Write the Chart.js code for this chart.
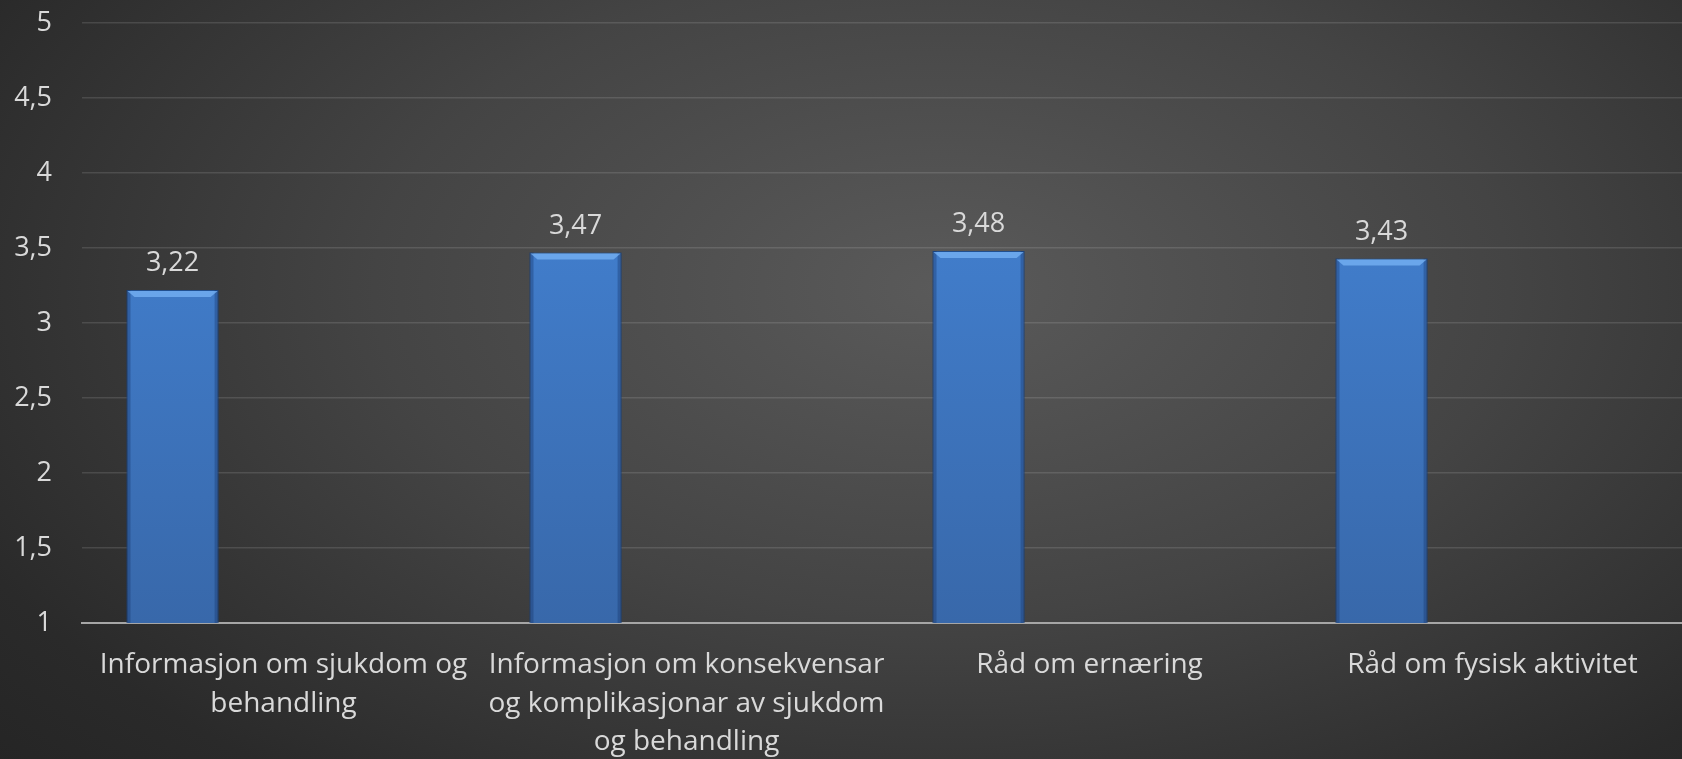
<!DOCTYPE html>
<html>
<head>
<meta charset="utf-8">
<script src="https://cdn.jsdelivr.net/npm/chart.js@4.4.0/dist/chart.umd.min.js"></script>
<style>
    html, body {
        margin: 0;
        padding: 0;
        width: 1682px;
        height: 759px;
        overflow: hidden;
    }
    body {
        background: radial-gradient(ellipse 75% 95% at 56% 38%, #5a5a5a 0%, #444444 45%, #2a2a2a 85%, #252525 100%);
    }
    canvas { display: block; }
</style>
</head>
<body>
<canvas id="myChart" width="1694" height="759"></canvas>
<script>
// Chart data
const categories = [
    ['Informasjon om sjukdom og', 'behandling'],
    ['Informasjon om konsekvensar', 'og komplikasjonar av sjukdom', 'og behandling'],
    'Råd om ernæring',
    'Råd om fysisk aktivitet'
];
const values = [3.22, 3.47, 3.48, 3.43];
// the other two series in the workbook are empty, they only take up room in each group
const emptySeries = [null, null, null, null];
const yTicks = [1, 1.5, 2, 2.5, 3, 3.5, 4, 4.5, 5];

const textColor = '#d9d9d9';
const fontFamily = '"Open Sans", "Noto Sans", sans-serif';

const toComma = (v) => String(v).replace('.', ',');

// value labels over the bars + the light bevel on top of each bar
const barExtras = {
    id: 'barExtras',
    afterDatasetsDraw(chart) {
        const ctx = chart.ctx;
        const bottom = chart.chartArea.bottom;
        const meta = chart.getDatasetMeta(0);
        meta.data.forEach((bar, i) => {
            const left = bar.x - bar.width / 2;
            const right = bar.x + bar.width / 2;
            const h = Math.min(bar.base, bottom) - bar.y;
            ctx.save();
            // darker sides
            ctx.fillStyle = 'rgba(20, 50, 100, 0.35)';
            ctx.fillRect(left, bar.y, 4, h);
            ctx.fillRect(right - 4, bar.y, 4, h);
            // bevel
            ctx.fillStyle = 'rgba(120, 180, 245, 0.75)';
            ctx.beginPath();
            ctx.moveTo(left + 1, bar.y + 1);
            ctx.lineTo(right - 1, bar.y + 1);
            ctx.lineTo(right - 8, bar.y + 7);
            ctx.lineTo(left + 8, bar.y + 7);
            ctx.closePath();
            ctx.fill();
            ctx.restore();

            ctx.save();
            ctx.fillStyle = textColor;
            ctx.font = '27px ' + fontFamily;
            ctx.textAlign = 'center';
            ctx.textBaseline = 'alphabetic';
            ctx.fillText(toComma(values[i]), bar.x, bar.y - 19);
            ctx.restore();
        });
    }
};

window.onload = function () {
    const ctx = document.getElementById('myChart').getContext('2d');

    const myChart = new Chart(ctx, {
        type: 'bar',
        data: {
            labels: categories,
            datasets: [{
                label: 'Snitt',
                data: values,
                backgroundColor: (c) => {
                    const area = c.chart.chartArea;
                    if (!area) return '#3d7bd0';
                    const g = c.chart.ctx.createLinearGradient(0, area.top, 0, area.bottom);
                    g.addColorStop(0, '#4689de');
                    g.addColorStop(1, '#3868aa');
                    return g;
                },
                borderColor: '#214f8e',
                borderWidth: 1,
                borderSkipped: 'bottom',
            }, {
                label: 'Serie 2',
                data: emptySeries,
            }, {
                label: 'Serie 3',
                data: emptySeries,
            }],
        },
        options: {
            responsive: false,
            animation: false,
            devicePixelRatio: 1,
            categoryPercentage: 0.826,
            barPercentage: 0.83,
            layout: {
                padding: { left: 0, top: 23, right: 0, bottom: 0 }
            },
            plugins: {
                legend: { display: false },
                tooltip: { enabled: false },
            },
            scales: {
                x: {
                    grid: { display: false, drawTicks: false },
                    border: { color: '#a6a6a6', width: 2 },
                    ticks: {
                        color: textColor,
                        font: { family: fontFamily, size: 28, lineHeight: 1.375 },
                        padding: 23,
                        maxRotation: 0,
                        autoSkip: false,
                    },
                    afterFit: (scale) => {
                        scale.paddingLeft = 0;
                        scale.paddingRight = 0;
                        scale.height = 136;
                    },
                },
                y: {
                    min: 1,
                    max: 5,
                    afterBuildTicks: (axis) => {
                        axis.ticks = yTicks.map((v) => ({ value: v }));
                    },
                    grid: { color: 'rgba(255,255,255,0.12)', lineWidth: 1.5, drawTicks: false },
                    border: { display: false },
                    ticks: {
                        color: textColor,
                        font: { family: fontFamily, size: 27 },
                        padding: 30,
                        callback: (v) => toComma(v),
                    },
                    afterFit: (scale) => {
                        scale.width = 82;
                        scale.paddingTop = 0;
                        scale.paddingBottom = 0;
                    },
                },
            },
        },
        plugins: [barExtras],
    });
    console.log('chart area', myChart.chartArea);
};
</script>
</body>
</html>
